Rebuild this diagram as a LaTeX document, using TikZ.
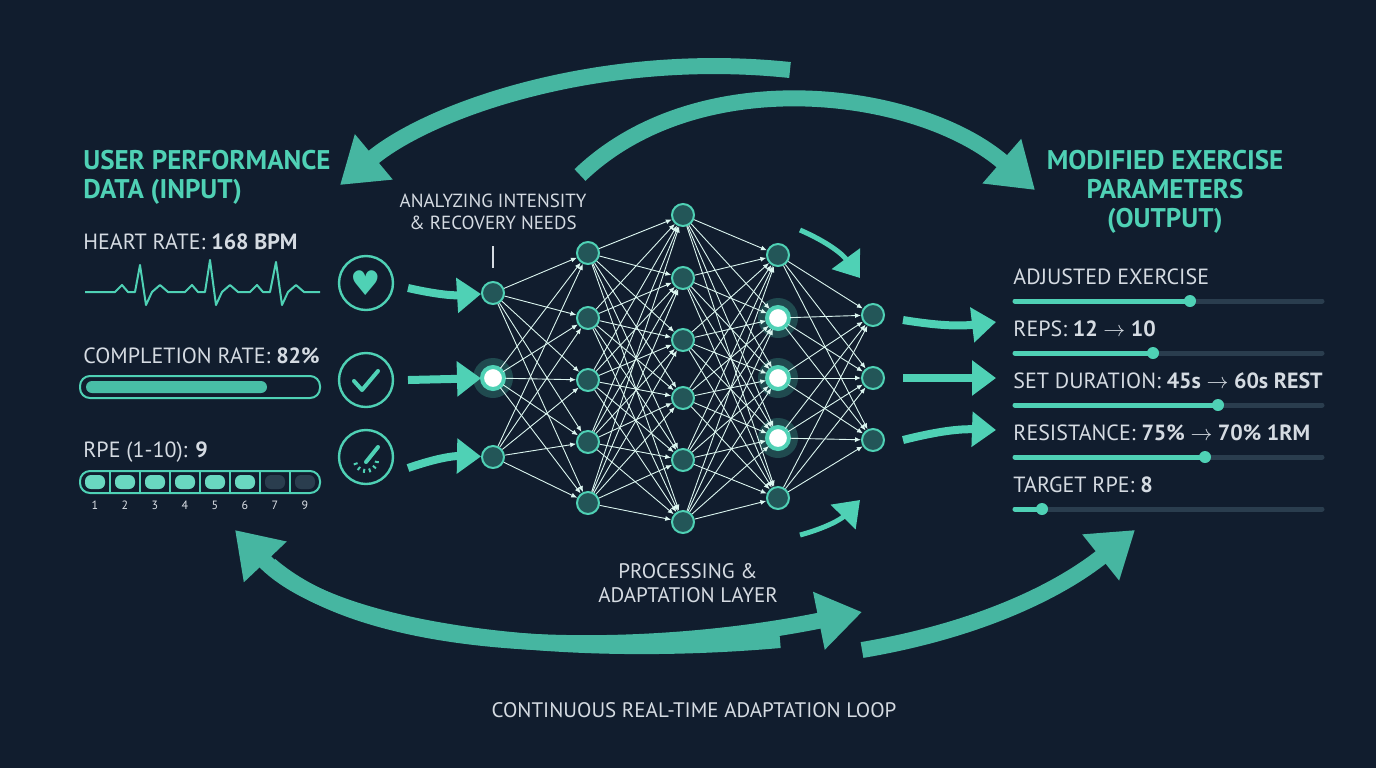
\documentclass[tikz,border=0pt]{standalone}
\usepackage{fontspec}
\setmainfont{PT Sans}
\newfontfamily\symfont{DejaVu Sans}
\usetikzlibrary{arrows.meta}
\definecolor{bgnavy}{HTML}{111D2E}
\definecolor{teal}{HTML}{4FD1B5}
\definecolor{darkteal}{HTML}{2A6F6A}
\definecolor{softgray}{HTML}{D5DBE2}
\definecolor{tracknavy}{HTML}{2A3D4E}
\tikzset{
  headtext/.style={text=teal, font=\fontsize{13.5}{14.5}\selectfont\bfseries, align=left, inner sep=0pt},
  labeltext/.style={text=softgray, font=\fontsize{11}{12}\selectfont, anchor=west, inner sep=0pt},
  neuron/.style={circle, draw=teal, fill=darkteal!70!bgnavy, line width=1pt, minimum size=11pt, inner sep=0pt},
  hotneuron/.style={neuron, fill=white, draw=teal, line width=2pt},
  link/.style={white!80!teal, line width=0.45pt, -{Latex[length=3pt,width=2.5pt]}},
  feedarrow/.style={teal, line width=4pt, -{Triangle[length=12pt,width=17pt]}},
  sweeparrow/.style={teal!85!bgnavy, line width=8pt, -{Triangle[length=22pt,width=28pt]}},
  iconring/.style={circle, draw=teal, line width=1.2pt, minimum size=27pt, inner sep=0pt},
  track/.style={tracknavy, line width=2.5pt, line cap=round},
  fillbar/.style={teal, line width=2.5pt, line cap=round},
}
\begin{document}
\begin{tikzpicture}[x=0.5pt,y=-0.5pt]
  \fill[bgnavy] (0,0) rectangle (1376,768);
  \useasboundingbox (0,0) rectangle (1376,768);

  % Headings
  \node[headtext, anchor=north west] (inhead) at (83,150) {USER PERFORMANCE\\DATA (INPUT)};
  \node[headtext, anchor=north, align=center] (outhead) at (1165,150) {MODIFIED EXERCISE\\PARAMETERS\\(OUTPUT)};

  % Heart rate
  \node[labeltext] (hrlabel) at (83,242) {HEART RATE: \textbf{168 BPM}};
  \draw[teal, line width=1pt, line join=round]
    (85,292) -- (115,292) -- (122,285) -- (128,292) -- (135,292) -- (140,265) -- (146,305) -- (152,292)
    -- (160,285) -- (168,292) -- (185,292) -- (192,285) -- (198,292) -- (205,292) -- (210,260) -- (216,305)
    -- (222,292) -- (230,285) -- (238,292) -- (250,292) -- (257,285) -- (263,292) -- (270,292) -- (276,262)
    -- (282,305) -- (288,292) -- (296,285) -- (304,292) -- (320,292);
  \node[iconring] (hricon) at (366,283) {};
  \node[text=teal, font=\symfont\fontsize{17}{17}\selectfont] at (hricon) {♥};

  % Completion rate
  \node[labeltext] (crlabel) at (83,356) {COMPLETION RATE: \textbf{82\%}};
  \draw[teal, line width=1pt, rounded corners=5pt] (80,376) rectangle (320,398);
  \fill[teal!80!darkteal, rounded corners=3pt] (86,381) rectangle (267,393);
  \node[iconring] (cricon) at (366,380) {};
  \draw[teal, line width=2pt, line cap=round, line join=round] (354,381) -- (362,390) -- (378,371);

  % RPE
  \node[labeltext] (rpelabel) at (83,452) {RPE (1-10): \textbf{9}};
  \draw[teal, line width=1pt, rounded corners=5pt] (80,471) rectangle (320,493);
  \foreach \i/\n in {1/1,2/2,3/3,4/4,5/5,6/6,7/7,8/9} {
    \pgfmathsetmacro{\cx}{80+30*\i-15}
    \ifnum\i>6
      \fill[tracknavy, rounded corners=3pt] (\cx-10,475) rectangle (\cx+10,489);
    \else
      \fill[teal!85!white, rounded corners=3pt] (\cx-10,475) rectangle (\cx+10,489);
    \fi
    \ifnum\i<8 \draw[teal, line width=0.6pt] (\cx+15,471) -- (\cx+15,493); \fi
    \node[text=softgray!80, font=\fontsize{6}{6}\selectfont] at (\cx,505) {\n};
  }
  \node[iconring] (rpeicon) at (366,457) {};
  \foreach \a in {160,130,100,70,40,10} {
    \draw[teal, line width=1pt] (366,460) ++(\a:13) -- ++(\a:-4);
  }
  \draw[teal, line width=2pt, line cap=round] (366,462) -- (378,447);

  % Network layers
  \foreach \y [count=\k] in {293,378,457} \node[neuron] (a\k) at (493,\y) {};
  \foreach \y [count=\k] in {253,318,380,442,503} \node[neuron] (b\k) at (588,\y) {};
  \foreach \y [count=\k] in {215,278,340,398,460,522} \node[neuron] (c\k) at (683,\y) {};
  \foreach \y [count=\k] in {255,318,378,438,498} \node[neuron] (d\k) at (778,\y) {};
  \foreach \y [count=\k] in {315,378,440} \node[neuron] (e\k) at (873,\y) {};
  % glow
  \foreach \n in {a2,d2,d3,d4} {
    \fill[teal, opacity=0.25] (\n) circle (20);
    \node[hotneuron] at (\n) {};
  }
  % links
  \foreach \i in {1,...,3} \foreach \j in {1,...,5} \draw[link] (a\i) -- (b\j);
  \foreach \i in {1,...,5} \foreach \j in {1,...,6} \draw[link] (b\i) -- (c\j);
  \foreach \i in {1,...,6} \foreach \j in {1,...,5} \draw[link] (c\i) -- (d\j);
  \foreach \i in {1,...,5} \foreach \j in {1,...,3} \draw[link] (d\i) -- (e\j);

  % Input arrows
  \coordinate (hrtail) at (408,288);
  \coordinate (crtail) at (408,380);
  \coordinate (rpetail) at (408,468);
  \draw[feedarrow] (hrtail) to[bend right=8] (a1);
  \draw[feedarrow] (crtail) -- (a2);
  \draw[feedarrow] (rpetail) to[bend left=10] (a3);

  % Output arrows
  \coordinate (o1) at (996,322);
  \coordinate (o2) at (996,378);
  \coordinate (o3) at (996,430);
  \draw[feedarrow] (e1) ++(30,5) to[bend right=8] (o1);
  \draw[feedarrow] (e2) ++(30,0) -- (o2);
  \draw[feedarrow] (e3) ++(30,0) to[bend left=8] (o3);
  \draw[feedarrow, line width=2.5pt] (800,230) to[bend left=15] (860,278);
  \draw[feedarrow, line width=2.5pt] (800,535) to[bend left=-15] (860,500);

  % Labels over the network
  \node[text=softgray, font=\fontsize{9.5}{11}\selectfont, align=center] (analyze) at (493,212) {ANALYZING INTENSITY\\\& RECOVERY NEEDS};
  \draw[softgray, line width=0.6pt] (493,246) -- (493,268);
  \node[text=softgray, font=\fontsize{10.5}{12}\selectfont, align=center] (procl) at (688,583) {PROCESSING \&\\ADAPTATION LAYER};

  % Output sliders
  \foreach \t/\y/\k [count=\r] in {
      {ADJUSTED EXERCISE}/277/1190,
      {REPS: \textbf{12 $\rightarrow$ 10}}/329/1153,
      {SET DURATION: \textbf{45s $\rightarrow$ 60s REST}}/381/1218,
      {RESISTANCE: \textbf{75\% $\rightarrow$ 70\% 1RM}}/433/1205,
      {TARGET RPE: \textbf{8}}/485/1042} {
    \node[labeltext] (out\r) at (1013,\y) {\t};
    \draw[track] (1015,\y+24) -- (1322,\y+24);
    \draw[fillbar] (1015,\y+24) -- (\k,\y+24);
    \fill[teal] (\k,\y+24) circle (6);
  }

  % Loop arrows
  \draw[sweeparrow] (790,70) .. controls (600,50) and (430,110) .. (340,185);
  \draw[sweeparrow] (580,175) .. controls (700,60) and (920,90) .. (1035,190);
  \draw[sweeparrow] (780,640) .. controls (550,660) and (330,630) .. (235,530);
  \draw[sweeparrow] (270,565) .. controls (380,660) and (650,655) .. (862,612);
  \draw[sweeparrow] (862,650) .. controls (980,630) and (1060,590) .. (1135,530);

  \node[text=softgray, font=\fontsize{10.5}{12}\selectfont] (loop) at (694,710) {CONTINUOUS REAL-TIME ADAPTATION LOOP};
\end{tikzpicture}
\end{document}
